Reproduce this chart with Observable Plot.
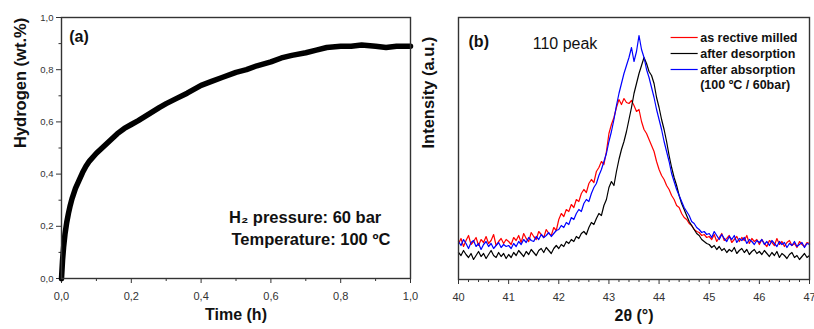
<!DOCTYPE html>
<html>
<head>
<meta charset="utf-8">
<script src="https://cdn.jsdelivr.net/npm/d3@7"></script>
<script src="https://cdn.jsdelivr.net/npm/@observablehq/plot@0.6"></script>
<style>
  html, body { margin: 0; padding: 0; background: #fff; }
  #fig { position: relative; width: 814px; height: 329px; overflow: hidden; }
  #fig > svg { position: absolute; top: 0; overflow: visible; }
</style>
</head>
<body>
<div id="fig"></div>
<script>
// ---------- Panel (a): hydrogen absorption kinetics ----------
const timeH = [0, 0.003, 0.006, 0.01, 0.015, 0.02, 0.025, 0.03, 0.04, 0.05, 0.06, 0.07, 0.08, 0.1, 0.12, 0.14, 0.16, 0.18, 0.2, 0.22, 0.25, 0.28, 0.3, 0.33, 0.36, 0.4, 0.43, 0.46, 0.5, 0.53, 0.56, 0.6, 0.63, 0.66, 0.7, 0.73, 0.76, 0.8, 0.83, 0.86, 0.9, 0.93, 0.96, 1.0];
const hydrogen = [0, 0.07, 0.12, 0.17, 0.215, 0.25, 0.28, 0.305, 0.345, 0.375, 0.405, 0.43, 0.45, 0.48, 0.505, 0.53, 0.555, 0.575, 0.59, 0.605, 0.63, 0.655, 0.67, 0.69, 0.71, 0.74, 0.755, 0.77, 0.79, 0.8, 0.815, 0.83, 0.845, 0.855, 0.865, 0.875, 0.885, 0.89, 0.89, 0.895, 0.89, 0.885, 0.89, 0.89];
const xMajorA = [0, 0.2, 0.4, 0.6, 0.8, 1.0];
const xMinorA = [0.1, 0.3, 0.5, 0.7, 0.9];
const yMajorA = [0, 0.2, 0.4, 0.6, 0.8, 1.0];
const yMinorA = [0.1, 0.3, 0.5, 0.7, 0.9];
const panelLabelA = [{x: 0.022, y: 0.925, text: "(a)"}];
const conditionsA = [
  {x: 0.48, y: 0.232, text: "H\u2082 pressure: 60 bar"},
  {x: 0.487, y: 0.147, text: "Temperature: 100 \u00baC"}
];

// ---------- Panel (b): XRD 110 peak ----------
const thetaStart = 40, thetaStep = 0.05;
const milled = [
  36, 41, 33, 39, 44, 35, 38, 42, 34, 40, 37, 43, 36, 39, 45, 34, 38, 41, 36, 40,
  38, 35, 42, 39, 44, 37, 46, 41, 38, 47, 43, 40, 48, 45, 42, 50, 46, 44, 52, 49,
  60, 66, 63, 70, 68, 75, 72, 80, 78, 86, 90, 87, 96, 100, 97, 108, 112, 118, 115, 128,
  146, 155, 162, 172, 180, 175, 181, 177, 176, 179, 174, 168, 170, 158, 150, 146, 140, 134, 128, 118,
  110, 104, 100, 94, 90, 84, 80, 74, 72, 66, 62, 60, 56, 54, 50, 48, 47, 44, 45, 42,
  43, 40, 45, 38, 42, 46, 39, 41, 44, 37, 40, 43, 38, 42, 39, 44, 36, 41, 38, 40,
  35, 40, 36, 33, 39, 37, 34, 41, 35, 38, 33, 37, 39, 34, 36, 32, 38, 35, 33, 37,
  36
];
const desorbed = [
  27, 24, 29, 25, 22, 26, 20, 24, 28, 23, 26, 21, 25, 29, 24, 22, 27, 23, 26, 21,
  25, 22, 27, 24, 29, 26, 23, 28, 25, 30, 27, 24, 29, 31, 27, 32, 29, 26, 31, 34,
  31, 35, 33, 38, 36, 40, 38, 43, 41, 46, 48, 45, 52, 57, 55, 61, 66, 64, 74, 80,
  92, 98, 94, 108, 120, 130, 138, 148, 160, 172, 186, 196, 206, 214, 222, 216, 208, 204, 196, 182,
  172, 160, 150, 138, 124, 112, 102, 94, 84, 76, 70, 64, 58, 54, 50, 46, 44, 40, 38, 36,
  35, 32, 34, 30, 33, 29, 31, 27, 30, 28, 32, 26, 29, 31, 27, 30, 25, 28, 30, 26,
  28, 25, 29, 26, 23, 27, 24, 28, 22, 26, 24, 21, 25, 27, 22, 24, 20, 23, 26, 22,
  24
];
const absorbed = [
  38, 34, 40, 36, 31, 37, 39, 33, 36, 30, 35, 38, 33, 36, 31, 34, 37, 32, 35, 33,
  34, 31, 36, 33, 38, 35, 40, 37, 42, 39, 38, 43, 40, 45, 42, 44, 47, 43, 46, 49,
  50, 54, 52, 57, 55, 62, 60, 66, 70, 68, 76, 80, 78, 86, 92, 96, 104, 110, 118, 126,
  138, 148, 160, 174, 186, 196, 206, 214, 222, 232, 218, 228, 244, 230, 222, 210, 202, 192, 182, 170,
  160, 150, 138, 128, 118, 106, 98, 90, 84, 78, 72, 68, 64, 58, 56, 52, 50, 47, 48, 45,
  46, 42, 48, 44, 40, 45, 41, 38, 43, 40, 44, 37, 41, 39, 42, 36, 40, 38, 35, 39,
  37, 40, 35, 38, 34, 39, 36, 33, 38, 35, 37, 32, 36, 34, 38, 33, 35, 37, 32, 36,
  35
];
const seriesNames = ["as rective milled", "after desorption", "after absorption"];
const seriesColors = ["#ff0000", "#000000", "#0000ff"];
const xMajorB = [40, 41, 42, 43, 44, 45, 46, 47];
const xMinorB = d3.range(40, 47.0001, 0.2).filter(v => Math.abs(v - Math.round(v)) > 1e-6);
const legendRows = [
  {name: "as rective milled", color: "#ff0000", y: 242},
  {name: "after desorption", color: "#000000", y: 226},
  {name: "after absorption", color: "#0000ff", y: 210},
  {name: "(100 \u00baC / 60bar)", color: null, y: 195}
];
const panelLabelB = [{x: 40.2, y: 238, text: "(b)"}];
const peakLabelB = [{x: 41.48, y: 236, text: "110 peak"}];

// ---------- build tables ----------
const dataA = timeH.map((t, i) => ({t, h: hydrogen[i]}));
const seriesValues = [milled, desorbed, absorbed];
const dataB = [];
seriesValues.forEach((vals, s) => vals.forEach((v, i) => dataB.push({series: seriesNames[s], theta: thetaStart + i * thetaStep, I: v})));

const comma = d => d.toFixed(1).replace(".", ",");
const font = "'Liberation Sans', Arial, sans-serif";
const axisColor = "#333";

const plotA = Plot.plot({
  width: 420, height: 329,
  marginLeft: 61, marginRight: 10, marginTop: 17, marginBottom: 51,
  x: {domain: [0, 1]},
  y: {domain: [0, 1]},
  style: {fontFamily: font, color: axisColor, background: "transparent", overflow: "visible"},
  marks: [
    Plot.axisX({ticks: xMajorA, tickSize: 5, tickPadding: 9, tickFormat: comma, fontSize: 11, label: null, stroke: axisColor}),
    Plot.axisX({ticks: xMinorA, tickSize: 3, tickFormat: () => "", label: null, stroke: axisColor}),
    Plot.axisY({ticks: yMajorA, tickSize: 5, tickPadding: 3, tickFormat: comma, fontSize: 9.5, label: null, stroke: axisColor}),
    Plot.axisY({ticks: yMinorA, tickSize: 2.5, tickFormat: () => "", label: null, stroke: axisColor}),
    Plot.line(dataA, {x: "t", y: "h", stroke: "#000", strokeWidth: 5.5, strokeLinejoin: "round"}),
    Plot.frame({stroke: axisColor, strokeWidth: 1.4}),
    Plot.text(panelLabelA, {x: "x", y: "y", text: "text", textAnchor: "start", fontSize: 16, fontWeight: "bold", fill: "#111"}),
    Plot.text(conditionsA, {x: "x", y: "y", text: "text", textAnchor: "start", fontSize: 16.5, fontWeight: "bold", fill: "#111"}),
    Plot.text(["Time (h)"], {frameAnchor: "bottom", dy: 41, fontSize: 16, fontWeight: "bold", fill: "#111"}),
    Plot.text(["Hydrogen (wt.%)"], {frameAnchor: "left", dx: -41, rotate: -90, fontSize: 16.5, fontWeight: "bold", fill: "#111"})
  ]
});
plotA.style.left = "0px";

const plotB = Plot.plot({
  width: 404, height: 329,
  marginLeft: 48, marginRight: 5, marginTop: 17, marginBottom: 50,
  x: {domain: [40, 47]},
  y: {domain: [0, 262], axis: null},
  color: {domain: seriesNames, range: seriesColors},
  style: {fontFamily: font, color: axisColor, background: "transparent", overflow: "visible"},
  marks: [
    Plot.axisX({ticks: xMajorB, tickSize: 5, tickPadding: 9, tickFormat: d => String(d), fontSize: 11, label: null, stroke: axisColor}),
    Plot.axisX({ticks: xMinorB, tickSize: 3, tickFormat: () => "", label: null, stroke: axisColor}),
    Plot.line(dataB, {x: "theta", y: "I", z: "series", stroke: "series", strokeWidth: 1.2}),
    Plot.frame({stroke: axisColor, strokeWidth: 1.4}),
    Plot.link(legendRows.filter(d => d.color), {x1: 44.23, x2: 44.77, y1: "y", y2: "y", stroke: "color", strokeWidth: 1.2}),
    Plot.text(legendRows, {x: 44.82, y: "y", text: "name", textAnchor: "start", fontSize: 12.5, fontWeight: "bold", fill: "#111"}),
    Plot.text(panelLabelB, {x: "x", y: "y", text: "text", textAnchor: "start", fontSize: 16, fontWeight: "bold", fill: "#111"}),
    Plot.text(peakLabelB, {x: "x", y: "y", text: "text", textAnchor: "start", fontSize: 16, fill: "#111"}),
    Plot.text(["2\u03b8 (\u00b0)"], {frameAnchor: "bottom", dy: 41, fontSize: 16, fontWeight: "bold", fill: "#111"}),
    Plot.text(["Intensity (a.u.)"], {frameAnchor: "left", dx: -30, rotate: -90, fontSize: 16.5, fontWeight: "bold", fill: "#111"})
  ]
});
plotB.style.left = "410px";

const fig = document.getElementById("fig");
fig.appendChild(plotA);
fig.appendChild(plotB);
</script>
</body>
</html>
